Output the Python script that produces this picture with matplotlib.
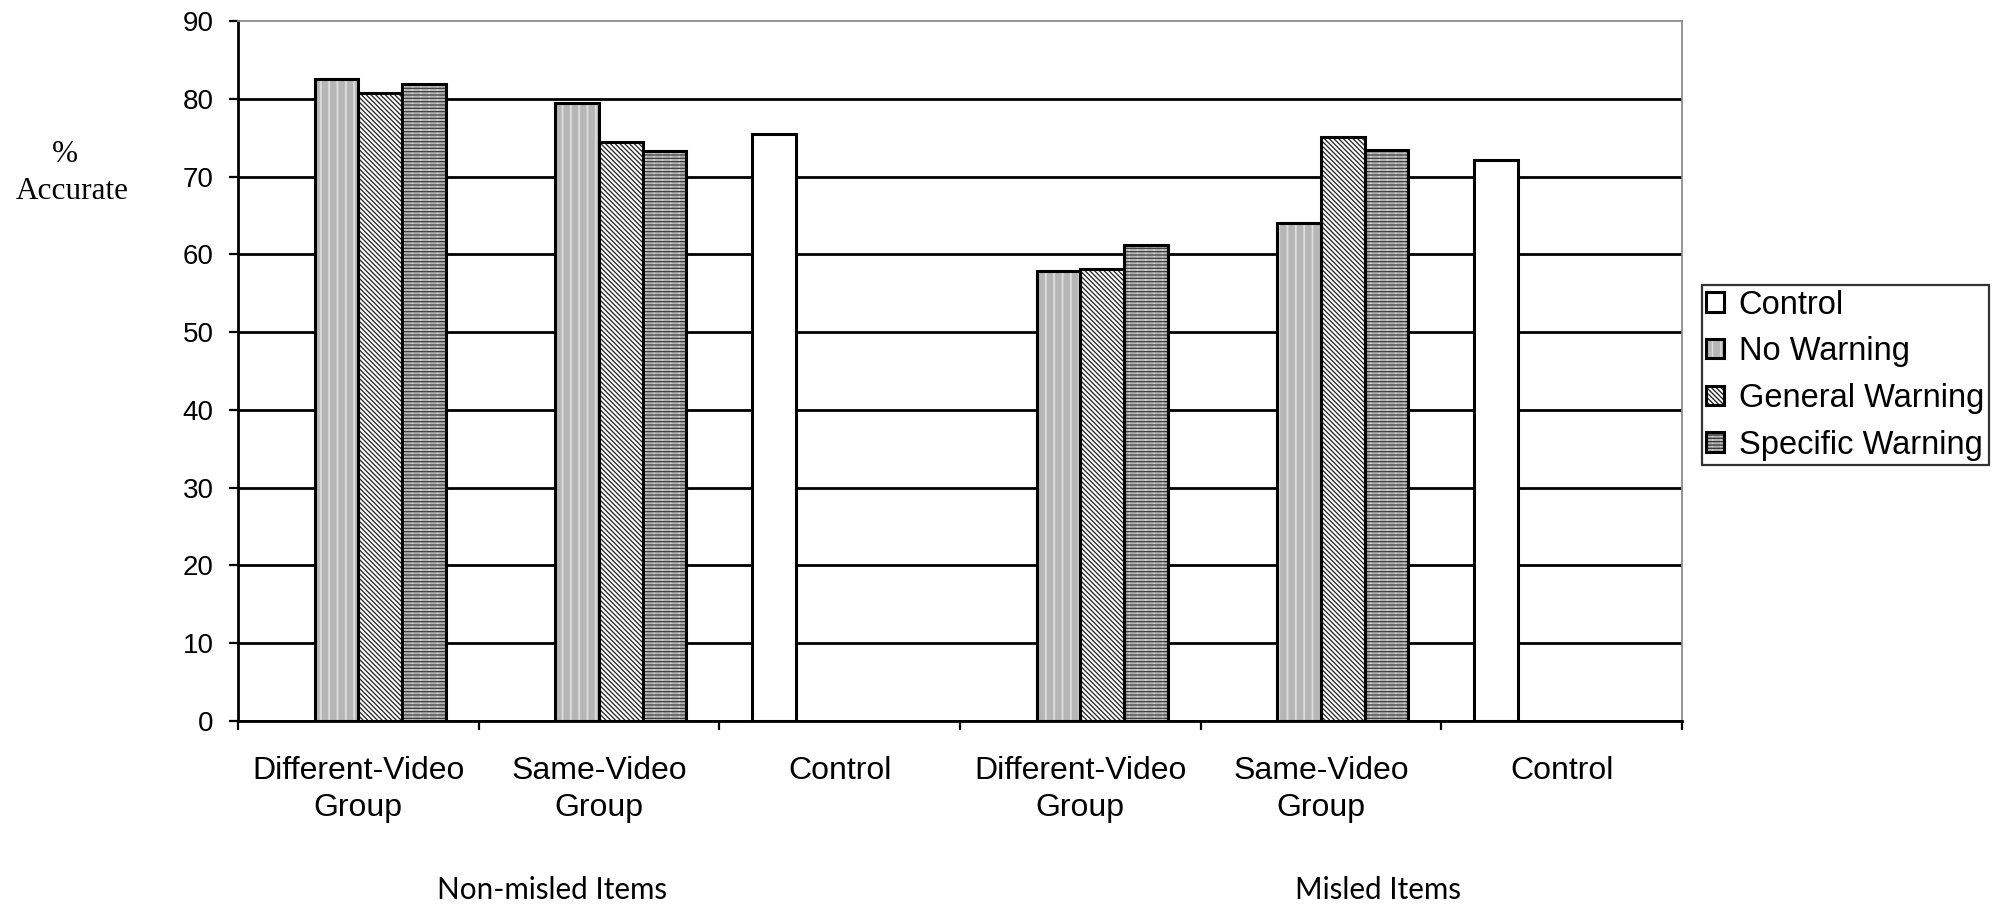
import numpy as np
import matplotlib
matplotlib.use("Agg")
import matplotlib.pyplot as plt
from matplotlib.legend_handler import HandlerTuple

plt.rcParams["font.family"] = ["Liberation Sans", "DejaVu Sans"]

# Data: % accurate by group, split into non-misled and misled items
categories = ["Different-Video\nGroup", "Same-Video\nGroup", "Control",
              "Different-Video\nGroup", "Same-Video\nGroup", "Control"]
series_names = ["Control", "No Warning", "General Warning", "Specific Warning"]
control = [np.nan, np.nan, 75.5, np.nan, np.nan, 72.1]
no_warning = [82.5, 79.5, np.nan, 57.9, 64.0, np.nan]
general_warning = [80.8, 74.4, np.nan, 58.1, 75.1, np.nan]
specific_warning = [81.9, 73.3, np.nan, 61.2, 73.4, np.nan]
yticks = list(range(0, 91, 10))
section_labels = ["Non-misled Items", "Misled Items"]

# Fill styles: list of layers (facecolor, hatch, hatch colour, hatch linewidth)
styles = [
    [("white", None, None, 0)],
    [("#b6b6b6", "||", "#dcdcdc", 1.4)],
    [("white", "\\\\\\\\\\\\\\", "#2a2a2a", 0.95)],
    [("#b4b4b4", "||", "#d0d0d0", 1.2), ("none", "-----", "#383838", 0.85)],
]
values = [control, no_warning, general_warning, specific_warning]

fig = plt.figure(figsize=(19.98, 9.06), dpi=100)
ax = fig.add_axes([0.1191, 0.2042, 0.7227, 0.7726])

x = np.arange(len(categories))
n = len(series_names)
width = 1 / (n + 1.5)

handles = []
for i, (name, vals, layers) in enumerate(zip(series_names, values, styles)):
    vals = np.asarray(vals, dtype=float)
    keep = ~np.isnan(vals)
    xpos = x[keep] + (i - (n - 1) / 2) * width
    h = vals[keep]
    parts = []
    for face, hatch, hcol, hlw in layers:
        with plt.rc_context({"hatch.linewidth": hlw if hlw else 1.0}):
            bc = ax.bar(xpos, h, width, color=face, hatch=hatch,
                        edgecolor=hcol if hcol else "none", linewidth=0, zorder=3)
        parts.append(bc[0])
    outline = ax.bar(xpos, h, width, color="none", edgecolor="black",
                     linewidth=2.2, zorder=4)
    parts.append(outline[0])
    handles.append(tuple(parts))

ax.set_xlim(-0.5, len(categories) - 0.5)
ax.set_ylim(0, 90)

# y axis
ax.set_yticks(yticks)
ax.tick_params(axis="y", which="major", direction="out", length=6.5, width=1.6,
               labelsize=20, pad=11)
ax.yaxis.grid(True, color="black", linewidth=2.0, zorder=1)
ax.set_axisbelow(True)
fig.canvas.draw()
ax.yaxis.get_major_ticks()[-1].gridline.set_visible(False)

# x axis: ticks between categories, labels centred on categories
ax.set_xticks(np.arange(-0.5, len(categories), 1.0))
ax.set_xticklabels([])
ax.tick_params(axis="x", which="major", direction="out", length=6.5, width=1.6)
ax.set_xticks(x, minor=True)
ax.set_xticklabels(categories, minor=True, fontsize=23, linespacing=1.3)
ax.tick_params(axis="x", which="minor", length=0, pad=25)

for side in ("left", "bottom"):
    ax.spines[side].set_color("black")
    ax.spines[side].set_linewidth(2.0)
for side in ("top", "right"):
    ax.spines[side].set_color("#8c8c8c")
    ax.spines[side].set_linewidth(1.3)

# y label
fig.text(0.0325, 0.830, "%", family=["Liberation Serif"], fontsize=22.5,
         ha="center", va="center")
fig.text(0.0360, 0.789, "Accurate", family=["Liberation Serif"], fontsize=22.5,
         ha="center", va="center")

# section labels
fig.text(0.2765, 0.018, section_labels[0], family=["Lato"], fontsize=21.3,
         ha="center", va="center")
fig.text(0.6897, 0.018, section_labels[1], family=["Lato"], fontsize=21.3,
         ha="center", va="center")

leg = fig.legend(handles, series_names, loc="upper left",
                 bbox_to_anchor=(0.8518, 0.6855), bbox_transform=fig.transFigure,
                 handler_map={tuple: HandlerTuple(ndivide=1, pad=0)},
                 fontsize=23.5, frameon=True, fancybox=False, shadow=False,
                 borderaxespad=0, borderpad=0.14, handlelength=0.54, handleheight=0.54,
                 handletextpad=0.45, labelspacing=0.48)
leg.get_frame().set_edgecolor("black")
leg.get_frame().set_linewidth(1.6)

fig.savefig("out.png", dpi=100)
